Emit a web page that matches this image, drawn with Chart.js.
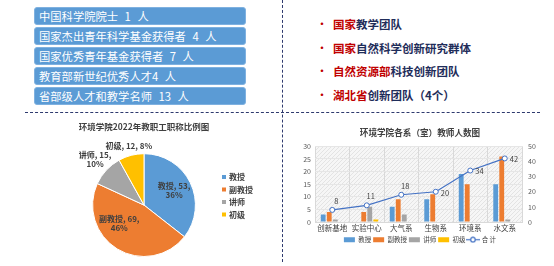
<!DOCTYPE html>
<html>
<head>
<meta charset="utf-8">
<script src="https://cdn.jsdelivr.net/npm/chart.js@4.4.1/dist/chart.umd.min.js"></script>
<style>
  html, body { margin: 0; padding: 0; background: #fff; }
  body { width: 554px; height: 266px; position: relative; overflow: hidden; font-family: "Noto Sans CJK SC", sans-serif; }
  #awards { position: absolute; left: 34px; top: 7px; width: 212px; }
  .award { height: 18px; margin-bottom: 1.9px; background: #5b9bd5; border: 1px solid #7fb1e0; border-radius: 3px; box-sizing: border-box;
           color: #fff; font-size: 11.3px; line-height: 16px; padding-left: 4px; white-space: pre; word-spacing: 4px; }
  #teams { position: absolute; left: 314px; top: 15px; }
  .team { position: relative; height: 23.6px; line-height: 18px; font-size: 11.5px; font-weight: bold; color: #1f2d5a; padding-left: 19px; white-space: pre; }
  .team::before { content: "•"; position: absolute; left: 3px; top: 0; color: #c00000; font-size: 10px; }
  .team .red { color: #c00000; }
  .hline { position: absolute; left: 25px; top: 112px; width: 515px; border-top: 1px dashed #2e3a6e; }
  .vline { position: absolute; left: 282px; top: 0; height: 262px; border-left: 1px dashed #2e3a6e; }
  #pieBox { position: absolute; left: 28px; top: 116px; width: 240px; height: 148px; }
  #barBox { position: absolute; left: 286px; top: 116px; width: 268px; height: 150px; }
</style>
</head>
<body>
<div id="awards"></div>
<div id="teams"></div>
<div class="hline"></div>
<div class="vline"></div>
<div id="pieBox"><canvas id="pieChart"></canvas></div>
<div id="barBox"><canvas id="barChart"></canvas></div>

<script>
// text blocks
const awardItems = [
  "中国科学院院士 1 人",
  "国家杰出青年科学基金获得者 4 人",
  "国家优秀青年基金获得者 7 人",
  "教育部新世纪优秀人才4 人",
  "省部级人才和教学名师 13 人",
];
const teamRed = ["国家", "国家", "自然资源部", "湖北省"];
const teamRest = ["教学团队", "自然科学创新研究群体", "科技创新团队", "创新团队（4个）"];

// pie data
const titleLabels = ["教授", "副教授", "讲师", "初级"];
const titleCounts = [53, 69, 15, 12];

// bar + line data
const depts = ["创新基地", "实验中心", "大气系", "生物系", "环境系", "水文系"];
const profCounts = [3, 0, 6, 9, 19, 15];
const assocCounts = [4, 4, 9, 11, 15, 26];
const lecturerCounts = [1, 6, 3, 0, 0, 1];
const juniorCounts = [0, 1, 0, 0, 0, 0];
const totalCounts = [8, 11, 18, 20, 34, 42];
const leftAxisMax = 30;
const rightAxisMax = 50;

const BLUE = "#5b9bd5", ORANGE = "#ed7d31", GRAY = "#a5a5a5", GOLD = "#ffc000", LINE = "#4472c4";
const FONT = '"Noto Sans CJK SC", sans-serif';
Chart.defaults.font.family = FONT;
Chart.defaults.color = "#595959";
Chart.defaults.animation = false;

document.getElementById("awards").innerHTML = awardItems
  .map((t) => `<div class="award">${t}</div>`).join("");
document.getElementById("teams").innerHTML = teamRed
  .map((r, i) => `<div class="team"><span class="red">${r}</span>${teamRest[i]}</div>`).join("");

// labels on the pie slices
const pieLabelPlugin = {
  id: "pieLabels",
  afterDatasetsDraw(chart, args, opts) {
    const ctx = chart.ctx;
    const values = chart.data.datasets[0].data;
    const total = values.reduce((a, b) => a + b, 0);
    ctx.save();
    ctx.font = "bold 8px " + FONT;
    ctx.fillStyle = "#404040";
    ctx.textAlign = "center";
    ctx.textBaseline = "middle";
    chart.getDatasetMeta(0).data.forEach((arc, i) => {
      const p = arc.getProps(["x", "y", "startAngle", "endAngle", "outerRadius"], true);
      const mid = (p.startAngle + p.endAngle) / 2 + (opts.shift[i] * Math.PI) / 180;
      const r = p.outerRadius * opts.dist[i];
      const cx = p.x + Math.cos(mid) * r;
      const cy = p.y + Math.sin(mid) * r;
      const pct = Math.round((values[i] / total) * 100) + "%";
      const head = chart.data.labels[i] + ", " + values[i] + ",";
      const lines = opts.wrap[i] ? [head, pct] : [head + " " + pct];
      lines.forEach((t, k) => ctx.fillText(t, cx, cy + (k - (lines.length - 1) / 2) * 9));
    });
    ctx.restore();
  },
};

// small legend on the right of the pie
const pieLegendPlugin = {
  id: "pieLegend",
  afterDraw(chart, args, opts) {
    const ctx = chart.ctx;
    const ds = chart.data.datasets[0];
    ctx.save();
    ctx.font = "bold 8px " + FONT;
    ctx.textBaseline = "middle";
    chart.data.labels.forEach((lab, i) => {
      const y = opts.y + i * opts.gap;
      ctx.fillStyle = ds.backgroundColor[i];
      ctx.fillRect(opts.x, y - 2, 4, 4);
      ctx.fillStyle = "#404040";
      ctx.fillText(lab, opts.x + 7, y);
    });
    ctx.restore();
  },
};

new Chart(document.getElementById("pieChart"), {
  type: "pie",
  data: {
    labels: titleLabels,
    datasets: [{
      data: titleCounts,
      backgroundColor: [BLUE, ORANGE, GRAY, GOLD],
      borderColor: "#ffffff",
      borderWidth: 1,
    }],
  },
  options: {
    responsive: true,
    maintainAspectRatio: false,
    layout: { padding: { left: 0, right: 8, top: 0, bottom: 7 } },
    plugins: {
      legend: { display: false },
      tooltip: { enabled: false },
      title: {
        display: true,
        text: "环境学院2022年教职工职称比例图",
        color: "#404040",
        font: { size: 8.5, weight: "bold" },
        padding: { top: 6, bottom: 21 },
      },
      pieLabels: { dist: [0.65, 0.6, 1.3, 1.18], wrap: [true, true, true, false], shift: [0, 22, 0, 0] },
      pieLegend: { x: 194, y: 61, gap: 12.5 },
    },
  },
  plugins: [pieLabelPlugin, pieLegendPlugin],
});

// hatched plot background
function hatchPattern(ctx) {
  const c = document.createElement("canvas");
  c.width = 4; c.height = 4;
  const g = c.getContext("2d");
  g.fillStyle = "#f6f6f6";
  g.fillRect(0, 0, 4, 4);
  g.strokeStyle = "#e3e3e3";
  g.lineWidth = 1;
  g.beginPath();
  g.moveTo(0, 4); g.lineTo(4, 0);
  g.stroke();
  return ctx.createPattern(c, "repeat");
}

const plotBgPlugin = {
  id: "plotBg",
  beforeDraw(chart) {
    const { ctx, chartArea: a } = chart;
    ctx.save();
    ctx.fillStyle = hatchPattern(ctx);
    ctx.fillRect(a.left, a.top, a.right - a.left, a.bottom - a.top);
    ctx.restore();
  },
};

// value labels on the total line
const lineLabelPlugin = {
  id: "lineLabels",
  afterDatasetsDraw(chart, args, opts) {
    const ctx = chart.ctx;
    ctx.save();
    ctx.font = "7.5px " + FONT;
    ctx.fillStyle = "#404040";
    ctx.textBaseline = "middle";
    chart.data.datasets.forEach((ds, di) => {
      if (ds.type !== "line") return;
      chart.getDatasetMeta(di).data.forEach((pt, i) => {
        const above = opts.pos[i] === "top";
        ctx.textAlign = above ? "center" : "left";
        const x = above ? pt.x + 4 : pt.x + 5;
        const y = above ? pt.y - 9 : pt.y + 1;
        ctx.fillText(ds.data[i], x, y);
      });
    });
    ctx.restore();
  },
};

// line + marker icon for the legend
const lineIcon = document.createElement("canvas");
lineIcon.width = 14; lineIcon.height = 7;
(() => {
  const g = lineIcon.getContext("2d");
  g.strokeStyle = LINE;
  g.lineWidth = 1.2;
  g.beginPath(); g.moveTo(0, 3.5); g.lineTo(14, 3.5); g.stroke();
  g.fillStyle = "#fff";
  g.beginPath(); g.arc(7, 3.5, 2.3, 0, Math.PI * 2); g.fill(); g.stroke();
})();

const barSet = (label, data, color) => ({
  type: "bar", label, data, backgroundColor: color, yAxisID: "y", order: 1,
  categoryPercentage: 0.7, barPercentage: 0.8,
});

new Chart(document.getElementById("barChart"), {
  data: {
    labels: depts,
    datasets: [
      barSet("教授", profCounts, BLUE),
      barSet("副教授", assocCounts, ORANGE),
      barSet("讲师", lecturerCounts, GRAY),
      barSet("初级", juniorCounts, GOLD),
      {
        type: "line", label: "合 计", data: totalCounts, yAxisID: "y1", order: 0,
        borderColor: LINE, borderWidth: 1.2, pointRadius: 2.5,
        pointBackgroundColor: "#ffffff", pointBorderColor: LINE, pointBorderWidth: 1,
        tension: 0,
      },
    ],
  },
  options: {
    responsive: true,
    maintainAspectRatio: false,
    layout: { padding: { left: 0, right: 0, top: 0, bottom: 13 } },
    scales: {
      x: {
        grid: { color: "#d9d9d9", drawTicks: false, offset: true },
        border: { color: "#d9d9d9" },
        ticks: { font: { size: 7.5 }, padding: 2, color: "#404040", maxRotation: 0, minRotation: 0, autoSkip: false },
        afterFit: (s) => { s.height = 12.5; },
      },
      y: {
        position: "left", min: 0, max: leftAxisMax,
        grid: { color: "#e6e6e6", drawTicks: false },
        border: { display: false },
        ticks: { stepSize: 5, font: { size: 7 }, padding: 4 },
        afterFit: (s) => { s.width = 29; },
      },
      y1: {
        position: "right", min: 0, max: rightAxisMax,
        grid: { drawOnChartArea: false, drawTicks: false },
        border: { display: false },
        ticks: { stepSize: 10, font: { size: 7 }, padding: 6 },
        afterFit: (s) => { s.width = 32; },
      },
    },
    plugins: {
      tooltip: { enabled: false },
      title: {
        display: true,
        text: "环境学院各系（室）教师人数图",
        color: "#404040",
        font: { size: 8.6, weight: "bold" },
        padding: { top: 12, bottom: 8 },
      },
      legend: {
        position: "bottom",
        labels: {
          usePointStyle: true,
          pointStyleWidth: 11,
          boxHeight: 5,
          padding: 2,
          color: "#404040",
          font: { size: 6.5 },
          generateLabels(chart) {
            const items = Chart.defaults.plugins.legend.labels.generateLabels(chart);
            items.sort((a, b) => a.datasetIndex - b.datasetIndex);
            items.forEach((it) => {
              const ds = chart.data.datasets[it.datasetIndex];
              it.pointStyle = ds.type === "line" ? lineIcon : "rect";
            });
            return items;
          },
        },
      },
      lineLabels: { pos: ["top", "top", "top", "right", "right", "right"] },
    },
  },
  plugins: [plotBgPlugin, lineLabelPlugin],
});
</script>
</body>
</html>
